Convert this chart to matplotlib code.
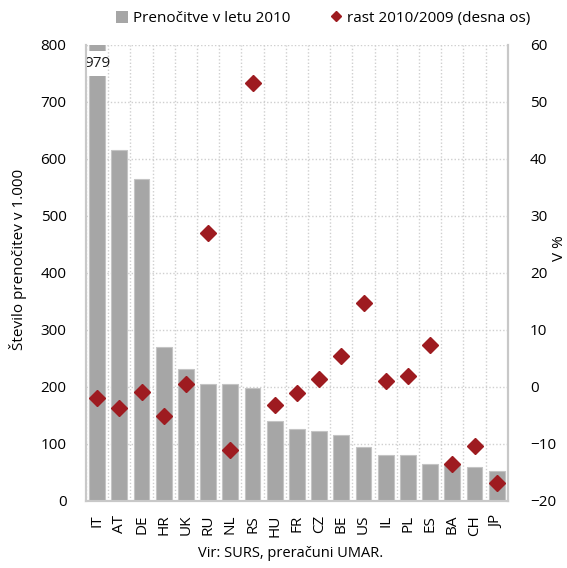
import matplotlib
matplotlib.use("Agg")
import matplotlib.pyplot as plt
from matplotlib.patches import Rectangle
from matplotlib.lines import Line2D
import numpy as np

countries = ["IT", "AT", "DE", "HR", "UK", "RU", "NL", "RS", "HU", "FR",
             "CZ", "BE", "US", "IL", "PL", "ES", "BA", "CH", "JP"]
nights_2010 = [979, 616, 565, 270, 232, 206, 206, 199, 141, 126,
               123, 115, 95, 80, 80, 65, 65, 60, 53]
growth_pct = [-1.9, -3.7, -0.9, -5.1, 0.6, 27.0, -11.0, 53.3, -3.2, -1.1,
              1.35, 5.5, 14.8, 1.1, 2.0, 7.3, -13.5, -10.4, -16.9]
left_ticks = [0, 100, 200, 300, 400, 500, 600, 700, 800]
right_ticks = [-20, -10, 0, 10, 20, 30, 40, 50, 60]

plt.rcParams['font.family'] = ['Open Sans', 'DejaVu Sans']

BAR = '#A6A6A6'
RED = '#9E1B20'
GRID = '#CFCFCF'
SPINE = '#C8C8C8'
FS = 11

fig = plt.figure(figsize=(5.67, 5.68), dpi=100)
ax = fig.add_axes([0.1517, 0.118, 0.744, 0.803])
ax2 = ax.twinx()

x = np.arange(len(countries))
ymax = left_ticks[-1]
ax.bar(x, nights_2010, width=0.71, color=BAR, edgecolor='#C4C4C4',
       linewidth=0.8, zorder=2)

# axis break on the first (off-scale) bar
brk_lo, brk_hi = 745, 790
ax.add_patch(Rectangle((x[0] - 0.45, brk_lo), 0.9, brk_hi - brk_lo,
                       facecolor='white', edgecolor='none', zorder=3))
ax.text(x[0], (brk_lo + brk_hi) / 2, f"{nights_2010[0]}", ha='center',
        va='center', fontsize=FS, color='#1a1a1a', zorder=4)

ax.set_xlim(-0.5, len(countries) - 0.5)
ax.set_ylim(left_ticks[0], ymax)
ax.set_yticks(left_ticks)
ax.set_xticks(x)
ax.set_xticklabels(countries, rotation=90, fontsize=FS)
ax.set_xticks(np.arange(len(countries) + 1) - 0.5, minor=True)
ax.tick_params(axis='x', which='both', length=0, pad=10)
ax.tick_params(axis='y', length=0, pad=14, labelsize=FS)
ax.grid(axis='y', which='major', color=GRID, linestyle=(0, (1, 1.5)),
        linewidth=1.0, zorder=0)
ax.grid(axis='x', which='minor', color=GRID, linestyle=(0, (1, 1.5)),
        linewidth=1.0, zorder=0)
ax.set_axisbelow(True)

ax2.plot(x, growth_pct, linestyle='none', marker='D', markersize=8,
         color=RED, zorder=5)
ax2.set_ylim(right_ticks[0], right_ticks[-1])
ax2.set_yticks(right_ticks)
ax2.tick_params(axis='y', length=0, pad=16, labelsize=FS)

for a in (ax, ax2):
    a.spines['top'].set_visible(False)
    for s in ('left', 'right', 'bottom'):
        a.spines[s].set_color(SPINE)
        a.spines[s].set_linewidth(1.5)

ax.set_ylabel("Število prenočitev v 1.000", fontsize=FS)
ax.yaxis.set_label_coords(-0.14, 0.53)
ax2.set_ylabel("V %", fontsize=FS)
ax2.yaxis.set_label_coords(1.105, 0.555)

handles = [
    Rectangle((0, 0), 1, 1, facecolor=BAR, edgecolor='none'),
    Line2D([], [], linestyle='none', marker='D', markersize=5, color=RED),
]
fig.legend(handles, ["Prenočitve v letu 2010", "rast 2010/2009 (desna os)"],
           loc='upper center', bbox_to_anchor=(0.57, 1.005), ncol=2,
           frameon=False, fontsize=FS, handlelength=0.8, handleheight=0.8,
           handletextpad=0.3, columnspacing=2.6)

fig.text(0.513, 0.026, "Vir: SURS, preračuni UMAR.", ha='center', va='center',
         fontsize=FS - 0.5)

fig.savefig("out.png", dpi=100)
